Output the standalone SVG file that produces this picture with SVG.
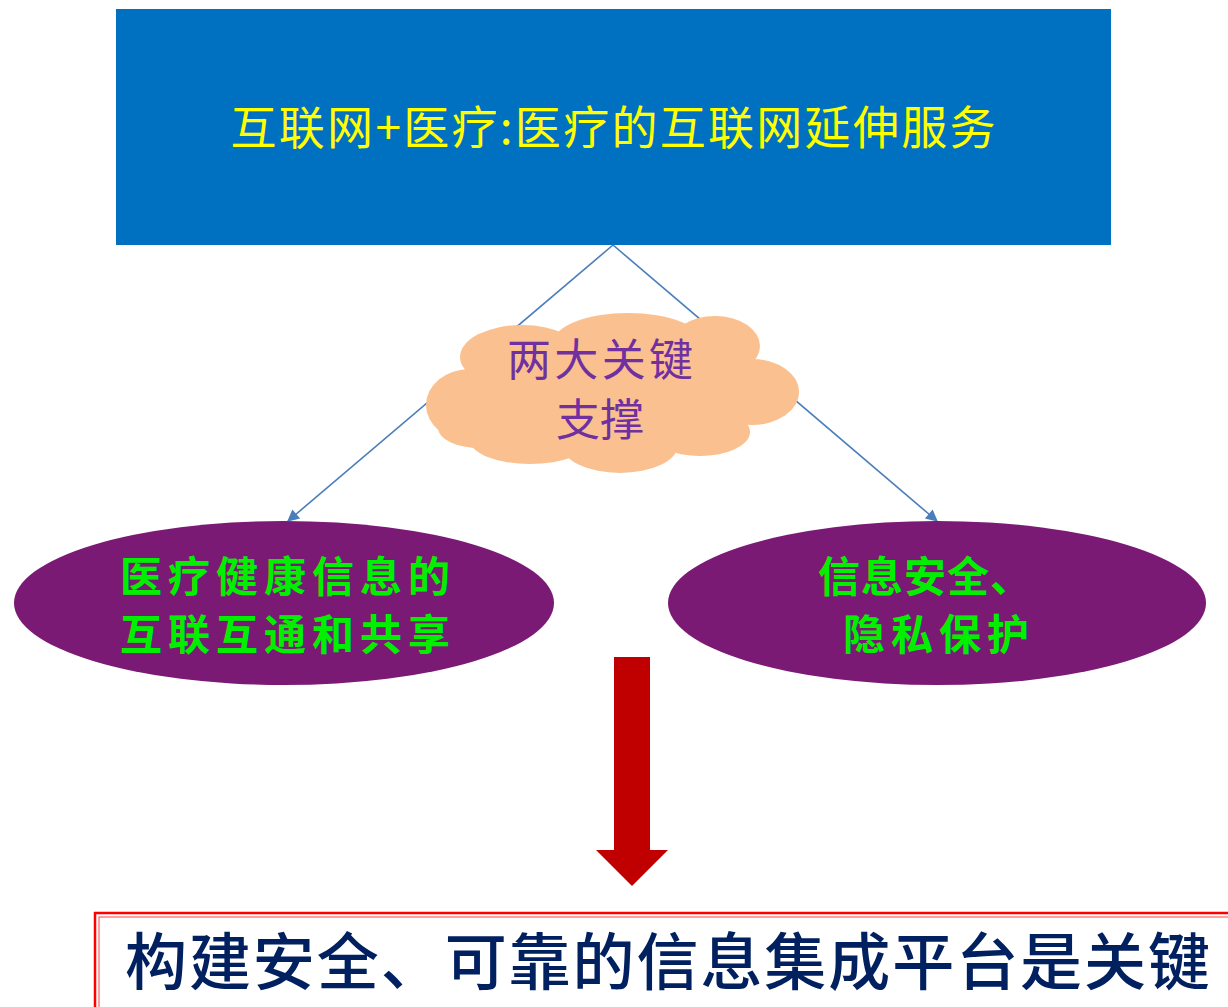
<svg xmlns="http://www.w3.org/2000/svg" width="1228" height="1007" viewBox="0 0 1228 1007">
<defs>
<style>
.cjk{font-family:"Noto Sans CJK SC","Noto Sans",sans-serif;}
.conn{stroke:#4A7EBB;stroke-width:1.6;fill:none;}
.cloud ellipse{fill:#FAC090;}
.ell{fill:#7B1A75;}
.gtxt{fill:#00F000;font-size:42px;font-weight:bold;}
</style>
<marker id="ah" viewBox="0 0 10 10" refX="9" refY="5" markerWidth="14" markerHeight="12" markerUnits="userSpaceOnUse" orient="auto">
<path d="M0,0 L10,5 L0,10 z" fill="#4A7EBB"/>
</marker>
</defs>
<rect width="1228" height="1007" fill="#FFFFFF"/>
<g id="connectors">
<line class="conn" x1="613" y1="245" x2="288" y2="521" marker-end="url(#ah)"/>
<line class="conn" x1="613" y1="245" x2="937" y2="521" marker-end="url(#ah)"/>
</g>
<g id="top">
<rect x="116" y="9" width="995" height="236" fill="#0070C0"/>
<text class="cjk" x="613" y="144" font-size="46" fill="#FFFF00" text-anchor="middle" textLength="765" lengthAdjust="spacing">互联网+医疗:医疗的互联网延伸服务</text>
</g>
<g id="cloud" class="cloud">
<ellipse cx="470" cy="405" rx="44" ry="36"/>
<ellipse cx="522" cy="357" rx="62" ry="32"/>
<ellipse cx="628" cy="343" rx="75" ry="30"/>
<ellipse cx="715" cy="346" rx="45" ry="30"/>
<ellipse cx="752" cy="392" rx="47" ry="33"/>
<ellipse cx="700" cy="432" rx="50" ry="24"/>
<ellipse cx="620" cy="445" rx="58" ry="28"/>
<ellipse cx="530" cy="440" rx="60" ry="24"/>
<ellipse cx="480" cy="428" rx="42" ry="20"/>
<ellipse cx="610" cy="395" rx="150" ry="55"/>
<text class="cjk" x="600" y="376" font-size="44" fill="#7030A0" text-anchor="middle" textLength="186" lengthAdjust="spacing">两大关键</text>
<text class="cjk" x="600" y="436" font-size="44" fill="#7030A0" text-anchor="middle">支撑</text>
</g>
<g id="left">
<ellipse class="ell" cx="284" cy="603" rx="270" ry="82"/>
<text class="cjk gtxt" x="120" y="592" textLength="330" lengthAdjust="spacing">医疗健康信息的</text>
<text class="cjk gtxt" x="120" y="650" textLength="330" lengthAdjust="spacing">互联互通和共享</text>
</g>
<g id="right">
<ellipse class="ell" cx="937" cy="603" rx="269" ry="82"/>
<text class="cjk gtxt" x="818" y="592" textLength="214" lengthAdjust="spacing">信息安全、</text>
<text class="cjk gtxt" x="843" y="650" textLength="186" lengthAdjust="spacing">隐私保护</text>
</g>
<g id="arrow">
<path d="M614,657 L650,657 L650,850 L668,850 L632,886 L596,850 L614,850 Z" fill="#C00000"/>
</g>
<g id="bottom">
<rect x="95" y="913" width="1140" height="110" fill="#FFFFFF" stroke="#FF0000" stroke-width="2.5"/>
<rect x="99" y="917" width="1140" height="110" fill="none" stroke="#FF4040" stroke-width="1"/>
<text class="cjk" x="125" y="985" font-size="62" font-weight="500" fill="#002060" textLength="1085" lengthAdjust="spacing">构建安全、可靠的信息集成平台是关键</text>
</g>
</svg>
